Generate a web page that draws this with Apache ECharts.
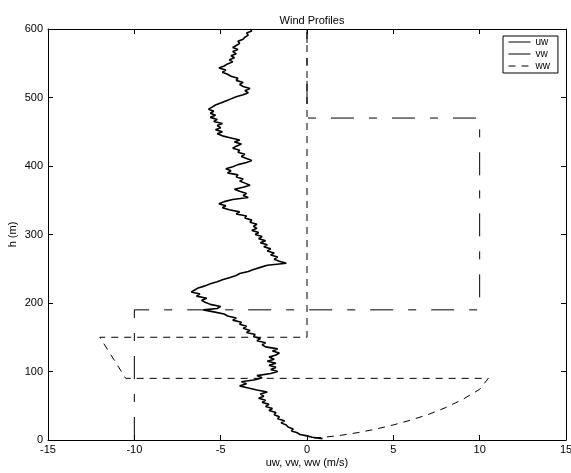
<!DOCTYPE html>
<html>
<head>
<meta charset="utf-8">
<script src="https://cdn.jsdelivr.net/npm/echarts@6/dist/echarts.min.js"></script>
<style>html,body{margin:0;padding:0;background:#fff;}#c{width:571px;height:473px;}</style>
</head>
<body>
<div id="c"></div>
<script>
var titleText = 'Wind Profiles';
var xName = 'uw, vw, ww (m/s)';
var yName = 'h (m)';
var seriesNames = ['uw', 'vw', 'ww'];
var xTicks = [-15, -10, -5, 0, 5, 10, 15];
var yTicks = [0, 100, 200, 300, 400, 500, 600];

// uw: measured profile [speed, height]
var uwData = [[0.9,2],[0.3,4],[0.0,6],[-0.4,8],[-0.6,11],[-0.9,13],[-0.8,16],[-1.1,19],[-1.2,22],[-1.5,25],[-1.3,28],[-1.7,31],[-1.6,34],[-1.9,37],[-1.8,40],[-2.2,43],[-2.0,46],[-2.4,49],[-2.2,52],[-2.6,55],[-2.4,58],[-2.8,61],[-2.5,64],[-2.7,67],[-2.3,70],[-2.9,73],[-3.4,76],[-3.9,79],[-3.5,82],[-3.8,85],[-3.0,88],[-2.6,91],[-2.9,94],[-2.1,97],[-1.7,100],[-2.1,103],[-1.8,106],[-2.2,109],[-1.8,112],[-2.3,115],[-1.9,118],[-2.2,121],[-1.8,124],[-1.6,127],[-2.0,130],[-1.7,133],[-2.4,136],[-2.6,139],[-2.4,142],[-2.9,145],[-2.7,148],[-3.1,151],[-3.0,154],[-3.5,157],[-3.3,160],[-3.7,163],[-3.5,166],[-3.9,169],[-3.8,172],[-4.3,175],[-4.1,178],[-4.6,181],[-4.8,184],[-5.4,187],[-6.0,190],[-5.2,192],[-5.0,195],[-5.6,198],[-5.9,201],[-6.1,204],[-5.8,207],[-6.4,210],[-6.2,213],[-6.7,216],[-6.5,219],[-6.3,222],[-5.9,225],[-5.6,228],[-5.2,231],[-4.9,234],[-4.5,237],[-4.1,240],[-3.9,243],[-3.4,246],[-3.1,249],[-2.7,252],[-2.3,255],[-1.2,258],[-1.6,261],[-1.9,264],[-1.7,267],[-2.1,270],[-1.9,273],[-2.3,276],[-2.1,279],[-2.5,282],[-2.3,285],[-2.7,288],[-2.4,291],[-2.8,294],[-2.6,297],[-3.0,300],[-2.8,303],[-3.2,306],[-2.9,309],[-3.1,312],[-2.9,315],[-3.3,318],[-3.2,321],[-3.6,324],[-3.5,327],[-4.1,330],[-3.9,333],[-4.5,336],[-4.9,339],[-4.7,342],[-5.1,345],[-4.8,348],[-4.3,351],[-3.4,354],[-3.7,357],[-3.5,360],[-3.9,363],[-4.2,366],[-3.7,369],[-3.3,372],[-3.6,375],[-3.9,378],[-3.7,381],[-4.1,384],[-4.0,387],[-4.6,390],[-4.4,393],[-4.7,396],[-4.3,399],[-4.0,402],[-3.5,405],[-3.2,408],[-3.5,411],[-3.8,414],[-3.6,417],[-4.0,420],[-3.9,423],[-4.3,426],[-4.1,429],[-3.8,432],[-4.2,435],[-3.9,438],[-4.4,441],[-4.9,444],[-5.2,447],[-4.9,450],[-5.3,453],[-5.0,456],[-5.2,459],[-4.9,462],[-5.4,465],[-5.2,468],[-5.6,471],[-5.3,474],[-5.6,477],[-5.4,480],[-5.7,483],[-5.5,486],[-5.3,489],[-5.0,492],[-4.7,495],[-4.4,498],[-4.1,501],[-3.7,504],[-3.4,507],[-3.6,510],[-3.3,513],[-3.7,516],[-3.9,519],[-3.7,522],[-4.1,525],[-4.0,528],[-4.4,531],[-4.6,534],[-4.9,537],[-4.7,540],[-5.1,543],[-4.8,546],[-4.6,549],[-4.3,552],[-4.5,555],[-4.2,558],[-4.4,561],[-4.1,564],[-4.3,567],[-4.0,570],[-4.3,573],[-4.1,576],[-3.9,579],[-4.0,582],[-3.7,585],[-3.6,588],[-3.4,591],[-3.5,594],[-3.2,597],[-3.3,600]];

// vw: stepped profile [speed, height]
var vwData = [[-10,0],[-10,190],[10,190],[10,470],[0,470],[0,600]];

// ww: profile [speed, height]
var wwData = [[0.4,3],[1,4],[2,7],[3,11],[4,16],[5,22],[6,29],[7,37],[8,47],[9,59],[10,74],[10.5,90],[-10.5,90],[-12,150],[0,150],[0,600]];

var font = 'Liberation Sans, Arial, sans-serif';
var chart = echarts.init(document.getElementById('c'), null, {renderer: 'canvas'});

function axisCommon(extra) {
  var base = {
    type: 'value',
    axisLine: {show: true, onZero: false, lineStyle: {color: '#000', width: 1}},
    axisTick: {show: true, inside: true, length: 5, lineStyle: {color: '#000', width: 1}},
    splitLine: {show: false},
    axisLabel: {color: '#000', fontFamily: font, fontSize: 11}
  };
  for (var k in extra) base[k] = extra[k];
  return base;
}

var option = {
  backgroundColor: '#fff',
  animation: false,
  title: {
    text: titleText, left: 307, top: 10, textAlign: 'center',
    textStyle: {fontFamily: font, fontSize: 11, fontWeight: 'normal', color: '#000'}
  },
  legend: {
    data: seriesNames, orient: 'vertical', left: 503, top: 36,
    itemWidth: 22, itemHeight: 12, itemGap: 2,
    padding: [1, 8, 2, 5],
    borderColor: '#000', borderWidth: 1, backgroundColor: '#fff',
    itemStyle: {opacity: 0},
    lineStyle: {width: 1},
    textStyle: {fontFamily: font, fontSize: 10, color: '#000'}
  },
  grid: {left: 48, right: 5, top: 29, bottom: 33, containLabel: false, outerBoundsMode: 'none'},
  xAxis: [
    axisCommon({position: 'bottom', min: xTicks[0], max: xTicks[xTicks.length-1], interval: 5,
      name: xName, nameLocation: 'middle', nameGap: 17, nameMoveOverlap: false,
      nameTextStyle: {fontFamily: font, fontSize: 11, color: '#000'},
      axisLabel: {color: '#000', fontFamily: font, fontSize: 11, margin: 4}}),
    axisCommon({position: 'top', min: xTicks[0], max: xTicks[xTicks.length-1], interval: 5,
      axisLabel: {show: false}})
  ],
  yAxis: [
    axisCommon({position: 'left', min: yTicks[0], max: yTicks[yTicks.length-1], interval: 100,
      name: yName, nameLocation: 'middle', nameGap: 30, nameMoveOverlap: false,
      nameTextStyle: {fontFamily: font, fontSize: 11, color: '#000'},
      axisLabel: {color: '#000', fontFamily: font, fontSize: 11, margin: 5}}),
    axisCommon({position: 'right', min: yTicks[0], max: yTicks[yTicks.length-1], interval: 100,
      axisLabel: {show: false}})
  ],
  series: [
    {name: seriesNames[0], type: 'line', data: uwData, symbol: 'none', xAxisIndex: 0, yAxisIndex: 0,
      lineStyle: {color: '#000', width: 1.6, type: 'solid'}, itemStyle: {color: '#000'}},
    {name: seriesNames[1], type: 'line', data: vwData, symbol: 'none', xAxisIndex: 0, yAxisIndex: 0,
      lineStyle: {color: '#000', width: 1, type: [23, 15, 8, 15]}, itemStyle: {color: '#000'}},
    {name: seriesNames[2], type: 'line', data: wwData, symbol: 'none', xAxisIndex: 0, yAxisIndex: 0,
      lineStyle: {color: '#000', width: 1, type: [7, 6]}, itemStyle: {color: '#000'}}
  ]
};
chart.setOption(option);
</script>
</body>
</html>
